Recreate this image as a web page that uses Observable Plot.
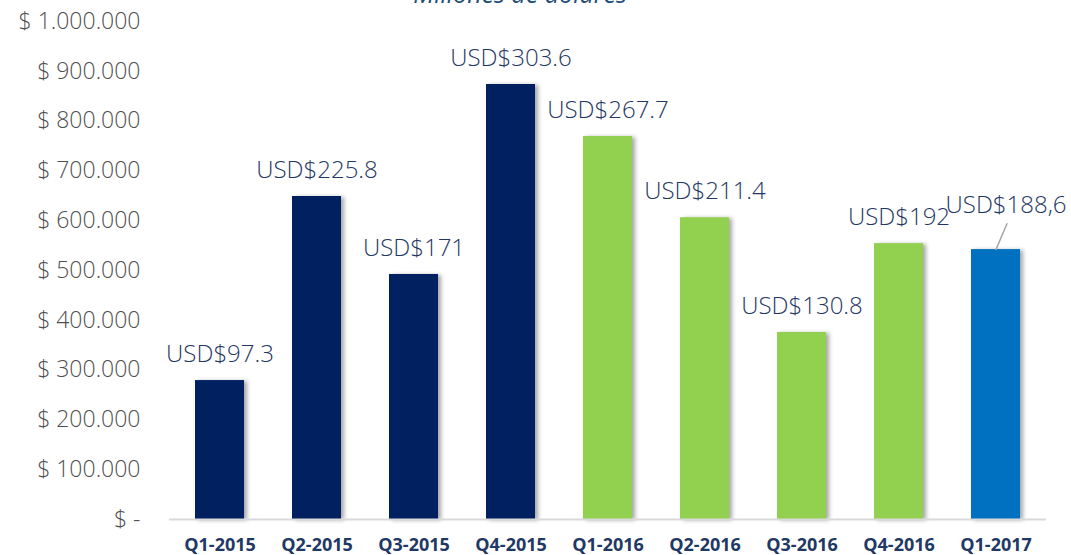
<!DOCTYPE html>
<html>
<head>
<meta charset="utf-8">
<script src="https://cdn.jsdelivr.net/npm/d3@7"></script>
<script src="https://cdn.jsdelivr.net/npm/@observablehq/plot@0.6"></script>
<style>
  html, body { margin: 0; padding: 0; background: #fff; overflow: hidden; }
  #wrap { position: relative; width: 1071px; height: 555px; }
  #title { position: absolute; top: -21px; left: 0; width: 1040px; text-align: center;
           font-family: "Open Sans", sans-serif; font-style: italic; font-size: 25px;
           color: #1F4E79; line-height: 29px; z-index: 2; }
  #chart svg g[aria-label="bar"] { filter: drop-shadow(3px 1px 2px rgba(0,0,0,0.35)); }
  #chart svg g[aria-label="x-axis tick label"] { font-size: 18px; font-weight: bold; }
</style>
</head>
<body>
<div id="wrap">
  <div id="title">Millones de dólares</div>
  <div id="chart"></div>
</div>
<script>
const quarters = ["Q1-2015","Q2-2015","Q3-2015","Q4-2015","Q1-2016","Q2-2016","Q3-2016","Q4-2016","Q1-2017"];
const values = [279000, 648600, 492000, 873500, 769000, 606000, 375500, 554000, 542000];
const labels = ["USD$97.3","USD$225.8","USD$171","USD$303.6","USD$267.7","USD$211.4","USD$130.8","USD$192","USD$188,6"];
const groups = ["2015","2015","2015","2015","2016","2016","2016","2016","2017"];
const yTicks = [0,100000,200000,300000,400000,500000,600000,700000,800000,900000,1000000];

const data = quarters.map((q, i) => ({q, v: values[i], label: labels[i], g: groups[i]}));
const main = data.slice(0, 8);
const last = data.slice(8);

const fmt = d => d === 0 ? "$ -" : "$ " + d3.format(",")(d).replace(/,/g, ".");

const chart = Plot.plot({
  width: 1071,
  height: 555,
  marginLeft: 169,
  marginRight: 25,
  marginTop: 21,
  marginBottom: 36,
  style: {fontFamily: "Open Sans, sans-serif", background: "#fff"},
  x: {domain: quarters, paddingInner: 0.5, paddingOuter: 0.25, label: null},
  y: {domain: [0, 1000000], label: null},
  color: {domain: ["2015","2016","2017"], range: ["#002060","#92D050","#0070C0"]},
  marks: [
    Plot.axisY({ticks: yTicks, tickFormat: fmt, tickSize: 0, tickPadding: 29,
      fontSize: 23, fontWeight: 300, color: "#4F4F4F", label: null}),
    Plot.axisX({tickSize: 0, tickPadding: 19, fontSize: 18, fontWeight: "bold",
      color: "#1F3864", label: null}),
    Plot.barY(data, {x: "q", y: "v", fill: "g"}),
    Plot.ruleY([0], {stroke: "#D9D9D9", strokeWidth: 2}),
    Plot.text(main, {x: "q", y: "v", text: "label", dy: -26, fontSize: 24, fontWeight: 300,
      fill: "#1F3864", lineAnchor: "middle"}),
    Plot.text(last, {x: "q", y: "v", text: "label", dx: 10, dy: -44, fontSize: 24, fontWeight: 300,
      fill: "#1F3864", lineAnchor: "middle"}),
    Plot.vector(last, {x: "q", y: "v", length: 28, rotate: 23, anchor: "start",
      stroke: "#A6A6A6", strokeWidth: 1.5,
      shape: {draw(ctx, l) { ctx.moveTo(0, 0); ctx.lineTo(0, -l); }}})
  ]
});
document.getElementById("chart").appendChild(chart);
</script>
</body>
</html>
